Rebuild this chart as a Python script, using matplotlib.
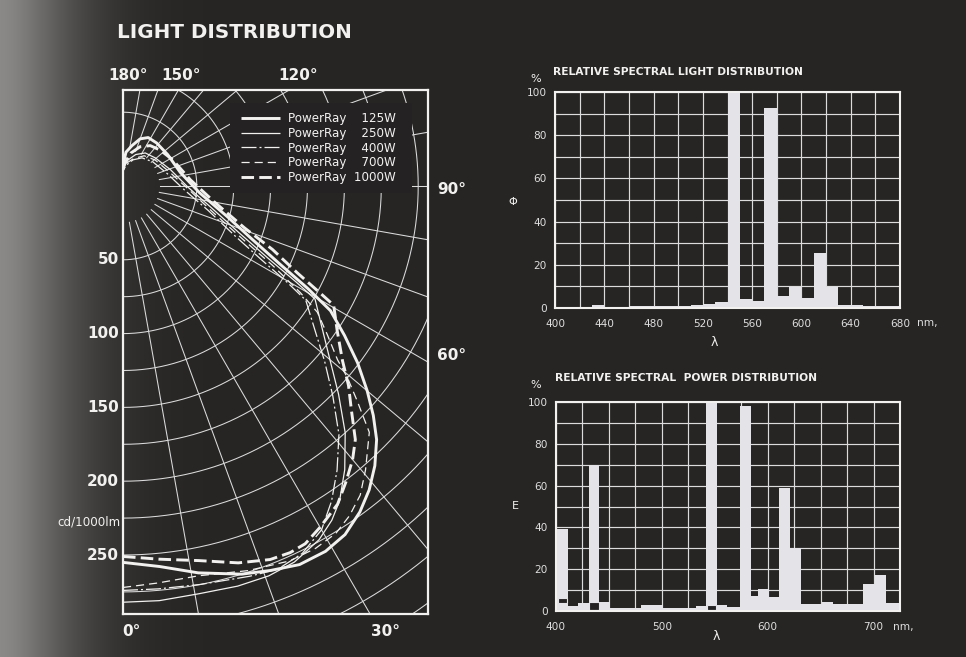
import numpy as np
import matplotlib
matplotlib.use("Agg")
import matplotlib.pyplot as plt
from matplotlib.patches import Rectangle

# ---------------- data ----------------
lamp_labels = ["PowerRay  \u2007125W", "PowerRay  \u2007250W", "PowerRay  \u2007400W",
               "PowerRay  \u2007700W", "PowerRay  1000W"]

# luminous intensity (cd/1000 lm) versus angle from the downward vertical (deg)
ang_125 = [0, 5.5, 11, 17, 21, 25, 29, 32.5, 36, 39, 42, 45, 47.5, 50, 53, 56, 59, 61, 63.5,
           67.5, 73.5, 85, 103, 125, 142, 152.5, 160, 167.5, 175, 180]
cd_125 = [255, 259, 267, 275, 279, 283, 283, 280, 273, 265, 255, 243, 230, 216, 199, 181, 164,
          143, 119, 95, 74, 52, 40, 37, 37, 37, 34, 28, 23, 14]

ang_250 = [0, 5, 10.5, 16, 20.5, 24.5, 29, 32, 34.5, 38, 42, 46, 50, 55, 59.5, 61, 63.5, 68,
           76, 89, 109, 131, 146, 158, 169, 180]
cd_250 = [282, 282, 281, 282, 282, 280, 274, 267, 259, 244, 225, 203, 183, 164, 151, 134, 110,
          85, 62, 44, 34, 29, 27, 23, 18, 12]

ang_400 = [0, 5, 11, 18, 22, 26, 30, 33.5, 37, 41, 45, 49, 53, 58, 59.5, 62, 66, 74, 86, 106,
           129, 146, 159, 172, 180]
cd_400 = [274, 274, 275, 278, 280, 277, 269, 256, 241, 223, 201, 181, 163, 146, 130, 106, 83,
          60, 42, 31, 26, 23, 19, 14, 10]

ang_700 = [0, 5, 11, 18, 24, 28, 31.5, 34.5, 37.5, 40.5, 45, 47.5, 49.5, 51, 54, 57, 59, 62,
           66, 73.5, 86.5, 106.5, 129, 145, 158.5, 170, 180]
cd_700 = [272, 270, 269, 274, 278, 278, 276, 271, 264, 253, 236, 215, 200, 187, 171, 157, 140,
          115, 89, 64, 45, 33, 28, 25, 20, 16, 11]

ang_1000 = [0, 5.5, 11.5, 17, 21.5, 24.5, 27, 30, 34, 37, 40, 42.5, 45.5, 48.5, 51.5, 56, 60.5,
            61.5, 63.5, 67, 71, 80, 95, 118, 134, 146, 156.5, 166.5, 175, 180]
cd_1000 = [251, 254, 259, 267, 272, 273, 272, 267, 260, 251, 242, 233, 217, 204, 190, 175, 164,
           152, 132, 110, 87, 63, 46, 38, 35, 33, 29, 23, 16, 11]

radial_ticks = [50, 100, 150, 200, 250]

# relative spectral light distribution (band edges in nm, values in %)
light_edges = [400, 420, 430, 440, 460, 480, 500, 510, 520, 530, 540, 550, 560, 570, 580, 590,
               600, 610, 620, 630, 640, 650, 660, 680]
light_values = [0.4, 0.5, 1.2, 0.6, 0.7, 0.8, 1.1, 1.2, 1.9, 2.6, 100, 4.2, 3.3, 92.6, 5.4, 9.6,
                4.7, 25.3, 9.5, 1.6, 1.2, 0.8, 0.9]
light_xticks = [400, 440, 480, 520, 560, 600, 640, 680]

# relative spectral power distribution
power_edges = [400, 411, 421, 431, 441, 451, 480, 501, 532, 542, 552, 562, 574, 584, 591, 601,
               611, 621, 631, 651, 662, 690, 701, 712, 725]
power_values = [39, 2.5, 4, 70, 4.5, 1.5, 3, 1.5, 2.5, 100, 3, 2, 98, 7, 10.5, 6.5, 59, 30,
                3.5, 4.5, 3.5, 13, 17, 4]
power_xticks = [400, 500, 600, 700]
# mercury line markers (outlined boxes at the foot of the line bars)
hg_x = [402, 431.5, 543]
hg_w = [8.5, 9, 8]
hg_y0 = [3.7, 0.3, 0.3]
hg_h = [2.7, 4.2, 2.5]

pct_ticks = [0, 20, 40, 60, 80, 100]

# ---------------- style ----------------
W, H, DPI = 966, 657, 100
BG = "#252223"
FG = "#f2f1f0"
GRID = "#dcdcdc"
BAR = "#e4e4e8"
FONT = "DejaVu Sans"


def fx(px):
    return px / W


def fy(py):
    return 1 - py / H


fig = plt.figure(figsize=(W / DPI, H / DPI), dpi=DPI)
fig.patch.set_facecolor(BG)

# background with lighter left page edge
bgax = fig.add_axes([0, 0, 1, 1], zorder=-10)
cols = np.arange(W)
v = 37 + 100 * np.exp(-(cols / 78.0) ** 1.6)
img = np.stack([v + 2, v, v - 1], axis=-1)[None, :, :] / 255.0
bgax.imshow(np.clip(img, 0, 1), extent=[0, 1, 0, 1], aspect="auto")
bgax.axis("off")

fig.text(fx(117), fy(32), "LIGHT DISTRIBUTION", fontsize=14.3, weight="bold",
         color=FG, ha="left", va="center", family=FONT)

# ---------------- polar light distribution ----------------
CX, CY, S = 123, 186, 1.476      # centre in pixels, pixels per cd
BX0, BY0, BX1, BY1 = 123, 90, 428, 614
axp = fig.add_axes([fx(BX0), fy(BY1), (BX1 - BX0) / W, (BY1 - BY0) / H])
axp.set_facecolor("none")
axp.set_xlim(0, (BX1 - CX) / S)
axp.set_ylim(-(BY1 - CY) / S, (CY - BY0) / S)
axp.set_xticks([])
axp.set_yticks([])
for sp in axp.spines.values():
    sp.set_color(FG)
    sp.set_linewidth(1.6)

t = np.radians(np.linspace(0, 180, 721))
for r in range(50, 501, 25):
    axp.plot(r * np.sin(t), -r * np.cos(t), color=GRID, lw=0.75, zorder=1)
for a in range(0, 181, 10):
    ar = np.radians(a)
    axp.plot([25 * np.sin(ar), 700 * np.sin(ar)], [-25 * np.cos(ar), -700 * np.cos(ar)],
             color=GRID, lw=0.75, zorder=1)


def pxy(ang, cd):
    a = np.radians(np.asarray(ang, float))
    c = np.asarray(cd, float)
    return c * np.sin(a), -c * np.cos(a)


series = [
    (ang_125, cd_125, dict(lw=2.1, ls="-")),
    (ang_250, cd_250, dict(lw=0.9, ls="-")),
    (ang_400, cd_400, dict(lw=0.9, ls=(0, (12, 2.4, 1.6, 2.4)))),
    (ang_700, cd_700, dict(lw=0.9, ls=(0, (6.5, 4)))),
    (ang_1000, cd_1000, dict(lw=2.1, ls=(0, (4.3, 1.8)))),
]
handles = []
for ang, cd, st in series:
    x, y = pxy(ang, cd)
    ln, = axp.plot(x, y, color=FG, solid_capstyle="butt", dash_capstyle="butt",
                   zorder=4, **st)
    handles.append(ln)

# black panel behind the legend
axp.add_patch(Rectangle(((230 - CX) / S, (CY - 193) / S), (412 - 230) / S, (193 - 103) / S,
                        facecolor=BG, edgecolor="none", zorder=3))
leg = axp.legend(handles, lamp_labels, loc="upper left",
                 bbox_to_anchor=((241 - BX0) / (BX1 - BX0), 1 - (112 - BY0) / (BY1 - BY0)),
                 frameon=False, handlelength=3.3, handletextpad=0.65, labelspacing=0.15,
                 borderpad=0.0, borderaxespad=0.0, prop=dict(family=FONT, size=8.6))
for tx in leg.get_texts():
    tx.set_color(FG)
leg.set_zorder(6)

for r in radial_ticks:
    axp.text(-4 / S, -r, str(r), ha="right", va="center", fontsize=11, weight="bold",
             color=FG, family=FONT, clip_on=False)
fig.text(fx(121), fy(522), "cd/1000lm", ha="right", va="center", fontsize=8.6,
         color=FG, family=FONT)

for txt, px, py in [("180°", 128, 76), ("150°", 181, 76), ("120°", 298, 76),
                    ("90°", 452, 190), ("60°", 452, 355), ("0°", 131, 631), ("30°", 385, 631)]:
    fig.text(fx(px), fy(py), txt, ha="center", va="center", fontsize=11, weight="bold",
             color=FG, family=FONT)


# ---------------- spectral charts ----------------
def spectral(rect, edges, values, xlim, major, minor_step, title, ylab, title_xy, pct_xy,
             ylab_xy, lam_xy, nm_xy):
    ax = fig.add_axes(rect)
    ax.set_facecolor("none")
    e = np.asarray(edges, float)
    ax.bar(e[:-1], values, width=np.diff(e), align="edge", color=BAR, linewidth=0, zorder=3)
    ax.set_xlim(*xlim)
    ax.set_ylim(0, 100)
    ax.set_xticks(major)
    ax.set_xticks(np.arange(xlim[0], xlim[1] + 0.1, minor_step), minor=True)
    ax.set_yticks(pct_ticks)
    ax.set_yticks(np.arange(0, 101, 10), minor=True)
    ax.grid(True, which="both", color=GRID, lw=0.85, zorder=1)
    ax.set_axisbelow(True)
    ax.tick_params(which="both", length=0, colors="#dedede", labelsize=7.6)
    ax.tick_params(axis="x", pad=8)
    ax.tick_params(axis="y", pad=6)
    for lab in ax.get_xticklabels() + ax.get_yticklabels():
        lab.set_family(FONT)
    for sp in ax.spines.values():
        sp.set_color(FG)
        sp.set_linewidth(1.5)
        sp.set_zorder(5)
    fig.text(fx(title_xy[0]), fy(title_xy[1]), title, ha="left", va="center", fontsize=7.7,
             weight="bold", color=FG, family=FONT)
    fig.text(fx(pct_xy[0]), fy(pct_xy[1]), "%", ha="center", va="center", fontsize=8,
             color=FG, family=FONT)
    fig.text(fx(ylab_xy[0]), fy(ylab_xy[1]), ylab, ha="center", va="center", fontsize=8,
             color=FG, family=FONT)
    fig.text(fx(lam_xy[0]), fy(lam_xy[1]), "λ", ha="center", va="center", fontsize=9,
             color=FG, family=FONT)
    fig.text(fx(nm_xy[0]), fy(nm_xy[1]), "nm,", ha="left", va="center", fontsize=7.6,
             color="#dedede", family=FONT)
    return ax


axl = spectral([fx(555), fy(308), 345 / W, 216 / H], light_edges, light_values, (400, 680),
               light_xticks, 20, "RELATIVE SPECTRAL LIGHT DISTRIBUTION", "Φ",
               (553, 72), (536, 79), (513, 202), (714, 342), (917, 323))

axe = spectral([fx(556), fy(611), 344 / W, 209 / H], power_edges, power_values, (400, 725),
               power_xticks, 25, "RELATIVE SPECTRAL  POWER DISTRIBUTION", "E",
               (555, 378), (536, 385), (515, 506), (716, 637), (893, 627))
for x0, w, y0, h in zip(hg_x, hg_w, hg_y0, hg_h):
    axe.add_patch(Rectangle((x0, y0), w, h, facecolor=BG, edgecolor=BAR, lw=0.8, zorder=4))

fig.savefig("out.png", dpi=DPI, facecolor=fig.get_facecolor())
